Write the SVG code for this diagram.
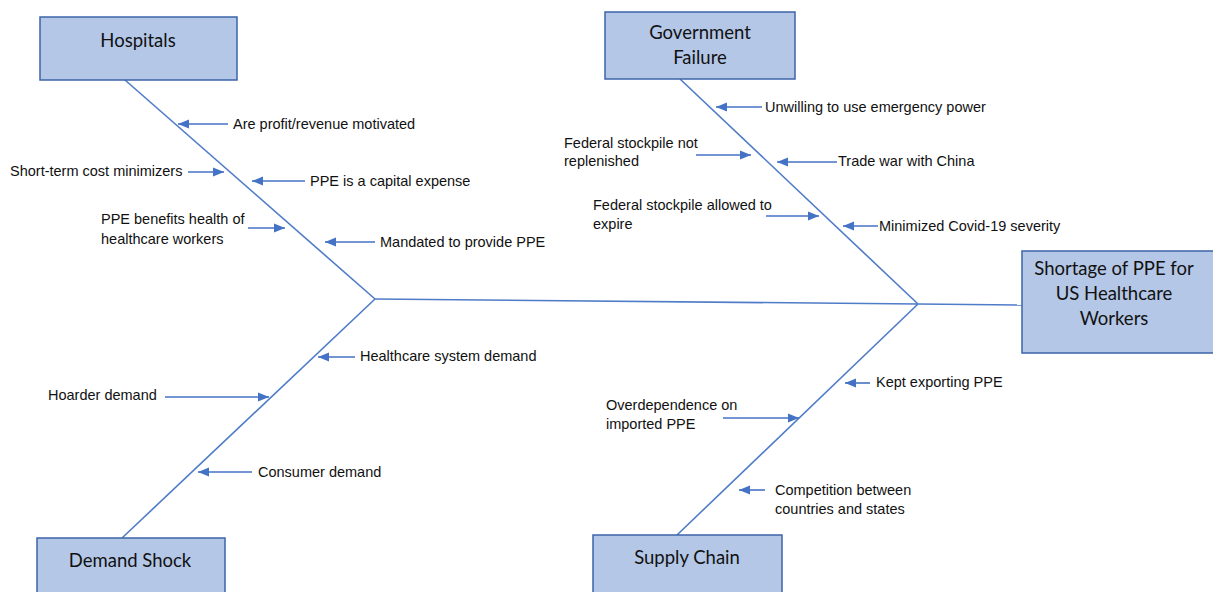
<svg xmlns="http://www.w3.org/2000/svg" width="1213" height="592" viewBox="0 0 1213 592">
<style>
.box{fill:#b4c7e7;stroke:#3c64a8;stroke-width:1.5}
.bt{font-family:Lato,"Open Sans",sans-serif;font-size:18.5px;fill:#111;text-anchor:middle;dominant-baseline:central}
.lb{font-family:"Liberation Sans",Arial,sans-serif;font-size:14.5px;fill:#111;dominant-baseline:central}
.bone{stroke:#4f7cc7;stroke-width:1.6;fill:none}
.ar{stroke:#4472c4;stroke-width:1.6;fill:none;marker-end:url(#ah)}
</style>
<defs>
<marker id="ah" markerUnits="userSpaceOnUse" markerWidth="12" markerHeight="10" refX="11" refY="5" orient="auto">
<path d="M0,0.5 L11,5 L0,9.5 Z" fill="#4472c4"/>
</marker>
</defs>
<rect width="1213" height="592" fill="#fff"/>
<g id="connectors">
<line class="bone" x1="375" y1="299" x2="918" y2="304"/>
<line class="bone" x1="918" y1="304" x2="1022" y2="305"/>
<line class="bone" x1="125" y1="80" x2="375" y2="299"/>
<line class="bone" x1="680" y1="79" x2="918" y2="304"/>
<line class="bone" x1="122" y1="538" x2="375" y2="299"/>
<line class="bone" x1="677" y1="535" x2="918" y2="304"/>
<line class="ar" x1="228" y1="124" x2="178" y2="124"/>
<line class="ar" x1="188" y1="172" x2="224" y2="172"/>
<line class="ar" x1="305" y1="181" x2="252" y2="181"/>
<line class="ar" x1="248" y1="228" x2="285" y2="228"/>
<line class="ar" x1="375" y1="242" x2="325" y2="242"/>
<line class="ar" x1="762" y1="107" x2="716" y2="107"/>
<line class="ar" x1="696" y1="155" x2="751" y2="155"/>
<line class="ar" x1="837" y1="162" x2="777" y2="162"/>
<line class="ar" x1="766" y1="216" x2="819" y2="216"/>
<line class="ar" x1="878" y1="226" x2="843" y2="226"/>
<line class="ar" x1="355" y1="357" x2="318" y2="357"/>
<line class="ar" x1="165" y1="397" x2="269" y2="397"/>
<line class="ar" x1="252" y1="472" x2="198" y2="472"/>
<line class="ar" x1="870" y1="383" x2="845" y2="383"/>
<line class="ar" x1="723" y1="418" x2="799" y2="418"/>
<line class="ar" x1="765" y1="490" x2="739" y2="490"/>
</g>
<g id="hospitals">
<rect class="box" x="40" y="17" width="197" height="63"/>
<text class="bt" x="138" y="40">Hospitals</text>
</g>
<g id="government-failure">
<rect class="box" x="605" y="12" width="190" height="67"/>
<text class="bt" x="700" y="32">Government</text>
<text class="bt" x="700" y="57">Failure</text>
</g>
<g id="shortage">
<rect class="box" x="1022" y="251" width="200" height="102"/>
<text class="bt" x="1114" y="268">Shortage of PPE for</text>
<text class="bt" x="1114" y="293">US Healthcare</text>
<text class="bt" x="1114" y="318">Workers</text>
</g>
<g id="demand-shock">
<rect class="box" x="37" y="538" width="188" height="60"/>
<text class="bt" x="130" y="560">Demand Shock</text>
</g>
<g id="supply-chain">
<rect class="box" x="593" y="535" width="189" height="63"/>
<text class="bt" x="687" y="557">Supply Chain</text>
</g>
<g id="labels">
<text class="lb" x="233" y="124">Are profit/revenue motivated</text>
<text class="lb" x="10" y="171">Short-term cost minimizers</text>
<text class="lb" x="310" y="181">PPE is a capital expense</text>
<text class="lb" x="101" y="219">PPE benefits health of</text>
<text class="lb" x="101" y="239">healthcare workers</text>
<text class="lb" x="380" y="242">Mandated to provide PPE</text>
<text class="lb" x="765" y="107">Unwilling to use emergency power</text>
<text class="lb" x="564" y="143">Federal stockpile not</text>
<text class="lb" x="564" y="161">replenished</text>
<text class="lb" x="838" y="161">Trade war with China</text>
<text class="lb" x="593" y="205">Federal stockpile allowed to</text>
<text class="lb" x="593" y="224">expire</text>
<text class="lb" x="879" y="226">Minimized Covid-19 severity</text>
<text class="lb" x="360" y="356">Healthcare system demand</text>
<text class="lb" x="48" y="395">Hoarder demand</text>
<text class="lb" x="258" y="472">Consumer demand</text>
<text class="lb" x="876" y="382">Kept exporting PPE</text>
<text class="lb" x="606" y="405">Overdependence on</text>
<text class="lb" x="606" y="424">imported PPE</text>
<text class="lb" x="775" y="490">Competition between</text>
<text class="lb" x="775" y="509">countries and states</text>
</g>
</svg>
